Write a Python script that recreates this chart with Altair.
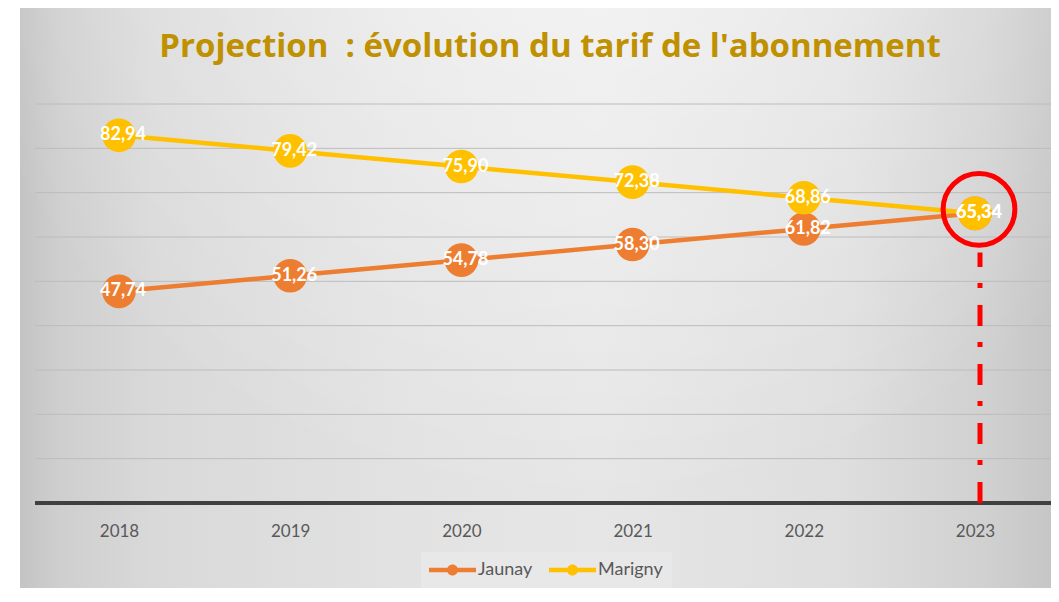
import altair as alt
import pandas as pd

# ---- data ----
years = ["2018", "2019", "2020", "2021", "2022", "2023"]
jaunay = [47.74, 51.26, 54.78, 58.30, 61.82, 65.34]
marigny = [82.94, 79.42, 75.90, 72.38, 68.86, 65.34]
series_names = ["Jaunay", "Marigny"]
series_colors = ["#ED7D31", "#FFC000"]
grid_values = [10, 20, 30, 40, 50, 60, 70, 80, 90]
title_text = "Projection \u00a0: évolution du tarif de l'abonnement"
highlight_year = "2023"
highlight_value = 65.34
highlight_line_top = 56.5

rows = []
for name, vals in zip(series_names, [jaunay, marigny]):
    for y, v in zip(years, vals):
        rows.append({"year": y, "serie": name, "value": v,
                     "label": f"{v:.2f}".replace(".", ",")})
df = pd.DataFrame(rows)
grid_df = pd.DataFrame({"g": grid_values})
base_df = pd.DataFrame({"g": [0]})
hl_df = pd.DataFrame({"year": [highlight_year], "value": [highlight_value],
                      "top": [highlight_line_top], "zero": [0]})
one = pd.DataFrame({"k": [1]})

W, H = 1016, 399
PAD = {"left": 27, "top": 96, "right": 0, "bottom": 85}
CANVAS_H = PAD["top"] + H + PAD["bottom"]

xscale = alt.Scale(type="point", range=[84, 940], padding=0)
yscale = alt.Scale(domain=[0, 90], nice=False)

x_enc = alt.X("year:O", scale=xscale, title=None,
              axis=alt.Axis(domain=False, ticks=False, tickSize=0, grid=False,
                            labelFont="Lato", labelFontSize=17, labelColor="#595959",
                            labelPadding=20, labelAngle=0, zindex=1))
y_enc = alt.Y("value:Q", scale=yscale, axis=None)

bg_fill = {
    "gradient": "linear", "x1": 0, "y1": 0, "x2": 1, "y2": 0,
    "stops": [
        {"offset": 0.0, "color": "#c4c4c4"},
        {"offset": 0.04, "color": "#cfcfcf"},
        {"offset": 0.13, "color": "#d9d9d9"},
        {"offset": 0.37, "color": "#e2e2e2"},
        {"offset": 0.56, "color": "#e6e6e6"},
        {"offset": 0.8, "color": "#dedede"},
        {"offset": 0.94, "color": "#d0d0d0"},
        {"offset": 1.0, "color": "#c6c6c6"},
    ]}
glow_fill = {
    "gradient": "radial", "x1": 0.55, "y1": 0.05, "x2": 0.55, "y2": 0.05,
    "r1": 0, "r2": 0.65,
    "stops": [
        {"offset": 0.0, "color": "rgba(255,255,255,0.65)"},
        {"offset": 0.5, "color": "rgba(255,255,255,0.3)"},
        {"offset": 1.0, "color": "rgba(255,255,255,0)"},
    ]}

bg = alt.Chart(one).mark_rect(color=bg_fill).encode(
    x=alt.value(-15), x2=alt.value(W), y=alt.value(-96),
    y2=alt.value(CANVAS_H - PAD["top"]))

bg_glow = alt.Chart(one).mark_rect(color=glow_fill).encode(
    x=alt.value(-15), x2=alt.value(W), y=alt.value(-96),
    y2=alt.value(CANVAS_H - PAD["top"]))

title = alt.Chart(one).mark_text(
    font="Open Sans", fontSize=33, fontWeight="bold", color="#BF9000",
    align="center", baseline="alphabetic"
).encode(x=alt.value(515), y=alt.value(-47), text=alt.value(title_text))

grid = alt.Chart(grid_df).mark_rule(color="#bcbcbc", strokeWidth=1).encode(
    y=alt.Y("g:Q", scale=yscale, axis=None), x=alt.value(0), x2=alt.value(W))

baseline = alt.Chart(base_df).mark_rule(color="#404040", strokeWidth=4).encode(
    y=alt.Y("g:Q", scale=yscale, axis=None), x=alt.value(0), x2=alt.value(W))

color_scale = alt.Scale(domain=series_names, range=series_colors)
legend_symbol = ("M-1,-0.23L3.7,-0.23L3.7,0.23L-1,0.23Z "
                 "M1.9,0A0.55,0.55,0,1,1,0.8,0A0.55,0.55,0,1,1,1.9,0Z")
legend = alt.Legend(
    title=None, orient="none", legendX=386, legendY=448, direction="horizontal",
    symbolType=legend_symbol, symbolSize=400, symbolStrokeWidth=0,
    symbolOpacity=1, labelFont="Lato", labelFontSize=18, labelColor="#595959",
    labelOffset=29, columnPadding=16, padding=8, fillColor="#e8e8e8",
    strokeColor="#e8e8e8", zindex=2)
color_enc = alt.Color("serie:N", scale=color_scale, legend=legend)

lines = alt.Chart(df).mark_line(strokeWidth=4.5).encode(
    x=x_enc, y=y_enc, color=color_enc)

points = alt.Chart(df).mark_point(filled=True, shape="circle", size=1134, opacity=1).encode(
    x=x_enc, y=y_enc, color=color_enc)

labels = alt.Chart(df).mark_text(
    font="Lato", fontSize=18, fontWeight="bold", color="white",
    align="center", baseline="middle", dx=4
).encode(x=x_enc, y=y_enc, text="label:N")

ring = alt.Chart(hl_df).mark_point(
    shape="circle", filled=False, size=5150, color="#FF0000", strokeWidth=5,
    opacity=1, xOffset=4, yOffset=-4
).encode(x=x_enc, y=y_enc)

dash = alt.Chart(hl_df).mark_rule(
    color="#FF0000", strokeWidth=5, strokeDash=[21, 17, 5, 16], xOffset=5
).encode(x=x_enc, y=alt.Y("zero:Q", scale=yscale, axis=None), y2="top:Q")

chart = alt.layer(bg, bg_glow, title, grid, baseline, lines, points, labels, ring, dash).properties(
    width=W, height=H, padding=PAD, autosize="none"
).configure_view(stroke=None)

chart.save("out.html", embed_options={"renderer": "svg", "actions": False})
